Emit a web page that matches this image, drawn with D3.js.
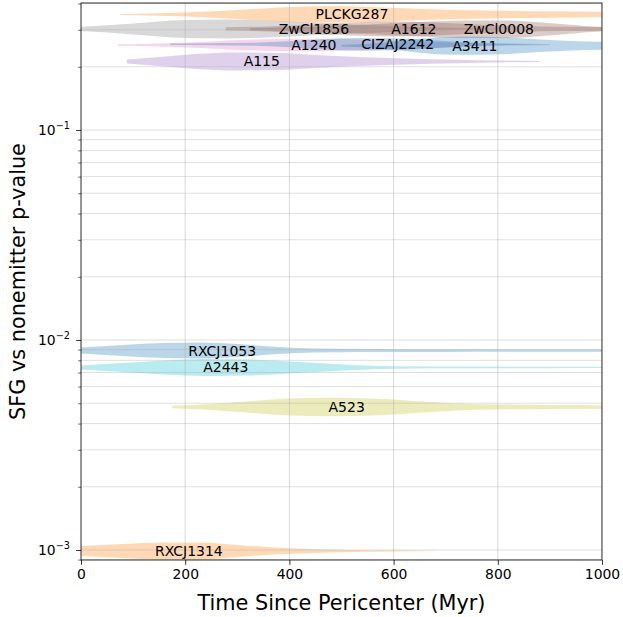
<!DOCTYPE html>
<html>
<head>
<meta charset="utf-8">
<script src="https://cdn.jsdelivr.net/npm/d3@7"></script>
<style>
  html, body { margin: 0; padding: 0; background: #fff; }
  svg { display: block; font-family: "DejaVu Sans", sans-serif; }
</style>
</head>
<body>
<svg id="chart" width="623" height="617"></svg>
<script>
// Clusters, in drawing order
const clusters = ["ZwCl1856", "PLCKG287", "A1612", "ZwCl0008", "A1240", "CIZAJ2242",
                  "A3411", "A115", "RXCJ1053", "A2443", "A523", "RXCJ1314"];
// SFG vs nonemitter p-value for each cluster
const pValues = [0.303, 0.355, 0.303, 0.302, 0.254, 0.256,
                 0.252, 0.212, 0.0089, 0.0074, 0.0048, 0.00099];
// time (Myr) at which each cluster name is written
const labelTimes = [447, 520, 639, 802, 447, 608, 756, 347, 271, 278, 510, 207];
const colors = ["#7f7f7f", "#ff7f0e", "#8c564b", "#8c564b", "#e377c2", "#1f77b4",
                "#1f77b4", "#9467bd", "#1f77b4", "#17becf", "#bcbd22", "#ff7f0e"];

// time-since-pericenter densities: [time (Myr), relative density]
const densityZwCl1856 = [[-60,.05],[0,.22],[100,.55],[200,.9],[280,.95],[360,.85],[440,.65],[520,.45],[620,.25],[720,.1],[800,.03]];
const densityPLCKG287 = [[75,.05],[150,.12],[250,.3],[330,.55],[400,.75],[460,.82],[540,.78],[620,.62],[700,.47],[800,.37],[900,.32],[1000,.28],[1100,.15],[1160,.03]];
const densityA1612 = [[278,.17],[360,.25],[440,.45],[520,.65],[600,.75],[680,.65],[760,.45],[840,.3],[920,.22],[1000,.2],[1100,.12]];
const densityZwCl0008 = [[325,.12],[420,.2],[500,.35],[580,.55],[660,.75],[740,.88],[820,.88],[880,.7],[940,.45],[990,.25],[1050,.2],[1150,.1]];
const densityA1240 = [[71,.08],[150,.15],[230,.3],[300,.5],[380,.6],[460,.62],[540,.55],[620,.4],[700,.25],[780,.12],[860,.06],[900,.02]];
const densityCIZAJ2242 = [[171,.08],[250,.1],[330,.15],[400,.3],[460,.5],[530,.62],[600,.6],[660,.45],[720,.25],[780,.12],[850,.05],[900,.02]];
const densityA3411 = [[500,.08],[580,.3],[650,.7],[700,.88],[760,.9],[820,.82],[880,.62],[940,.47],[1000,.4],[1100,.25],[1200,.05]];
const densityA115 = [[88,.2],[150,.45],[220,.75],[300,.9],[380,.85],[450,.65],[530,.45],[620,.3],[720,.17],[800,.1],[880,.05]];
const densityRXCJ1053 = [[-100,.05],[0,.3],[80,.55],[160,.75],[230,.8],[300,.65],[380,.35],[450,.2],[550,.15],[700,.13],[850,.12],[1000,.12],[1100,.05]];
const densityA2443 = [[-100,.05],[0,.2],[80,.45],[160,.7],[240,.85],[320,.8],[400,.6],[470,.4],[520,.25],[600,.12],[750,.09],[900,.07],[1000,.06],[1100,.03]];
const densityA523 = [[175,.12],[250,.3],[330,.6],[400,.85],[480,.92],[560,.85],[640,.6],[720,.35],[800,.25],[900,.2],[1000,.18],[1100,.1]];
const densityRXCJ1314 = [[-100,.1],[0,.5],[80,.7],[160,.85],[230,.85],[300,.6],[370,.35],[440,.2],[520,.1],[600,.06],[680,.02]];

const densities = [densityZwCl1856, densityPLCKG287, densityA1612, densityZwCl0008, densityA1240,
                   densityCIZAJ2242, densityA3411, densityA115, densityRXCJ1053, densityA2443,
                   densityA523, densityRXCJ1314];

const xTicks = [0, 200, 400, 600, 800, 1000];
const yMajorTicks = [1e-3, 1e-2, 1e-1];
const yTickLabels = ["\u22123", "\u22122", "\u22121"];
const xDomain = [0, 1000];
const yDomain = [0.000896, 0.4025];
const xLabel = "Time Since Pericenter (Myr)";
const yLabel = "SFG vs nonemitter p-value";

const margin = { left: 81, right: 21, top: 3, bottom: 57 };
const W = 623, H = 617;
const svg = d3.select("#chart");

const x = d3.scaleLinear().domain(xDomain).range([margin.left, W - margin.right]);
const y = d3.scaleLog().domain(yDomain).range([H - margin.bottom, margin.top]);
const halfWidth = d3.scaleLinear().domain([0, 1]).range([0, 10]);

const x0 = x.range()[0], x1 = x.range()[1];
const yTop = y.range()[1], yBot = y.range()[0];

svg.append("defs").append("clipPath").attr("id", "plot-clip")
  .append("rect").attr("x", x0).attr("y", yTop).attr("width", x1 - x0).attr("height", yBot - yTop);

// minor ticks on the log axis
const yMinorTicks = [];
[1e-4, 1e-3, 1e-2, 1e-1].forEach(dec => {
  for (let k = 2; k <= 9; k++) {
    const v = k * dec;
    if (v >= yDomain[0] && v <= yDomain[1]) yMinorTicks.push(v);
  }
});

// violins
const violins = svg.append("g").attr("clip-path", "url(#plot-clip)");
clusters.forEach((name, i) => {
  const cy = y(pValues[i]);
  const area = d3.area()
    .x(d => x(d[0]))
    .y0(d => cy - halfWidth(d[1]))
    .y1(d => cy + halfWidth(d[1]))
    .curve(d3.curveMonotoneX);
  violins.append("path")
    .datum(densities[i])
    .attr("d", area)
    .attr("fill", colors[i])
    .attr("fill-opacity", 0.3)
    .attr("stroke", "none");
});

// grid (drawn over the violin bodies)
const grid = svg.append("g").attr("clip-path", "url(#plot-clip)");
grid.selectAll("line.gx").data(xTicks).join("line")
  .attr("x1", d => x(d)).attr("x2", d => x(d))
  .attr("y1", yTop).attr("y2", yBot)
  .attr("stroke", "#b0b0b0").attr("stroke-opacity", 0.55).attr("stroke-width", 0.9);
grid.selectAll("line.gy").data(yMajorTicks.concat(yMinorTicks)).join("line")
  .attr("x1", x0).attr("x2", x1)
  .attr("y1", d => y(d)).attr("y2", d => y(d))
  .attr("stroke", "#b0b0b0").attr("stroke-opacity", 0.45).attr("stroke-width", 0.9);

// cluster labels
const labels = svg.append("g");
clusters.forEach((name, i) => {
  labels.append("text")
    .attr("x", x(labelTimes[i]))
    .attr("y", y(pValues[i]))
    .attr("text-anchor", "middle")
    .attr("dominant-baseline", "central")
    .attr("font-size", 14)
    .attr("fill", "#000")
    .text(name);
});

// axes
const xAxis = d3.axisBottom(x).tickValues(xTicks).tickFormat(d3.format("d"))
  .tickSizeInner(4.9).tickSizeOuter(0).tickPadding(4.5);
const gx = svg.append("g").attr("transform", `translate(0,${yBot})`).call(xAxis);
gx.select(".domain").remove();
gx.selectAll("text").attr("font-size", 13.9).attr("font-family", "DejaVu Sans").attr("fill", "#000");
gx.selectAll("line").attr("stroke", "#000").attr("stroke-width", 0.8);

const yAxis = d3.axisLeft(y).tickValues(yMajorTicks).tickFormat(() => "")
  .tickSizeInner(4.9).tickSizeOuter(0);
const gy = svg.append("g").attr("transform", `translate(${x0},0)`).call(yAxis);
gy.select(".domain").remove();
gy.selectAll("line").attr("stroke", "#000").attr("stroke-width", 0.8);
gy.selectAll(".tick text").remove();

const gyMinor = svg.append("g").attr("transform", `translate(${x0},0)`)
  .call(d3.axisLeft(y).tickValues(yMinorTicks).tickFormat(() => "").tickSizeInner(2.8).tickSizeOuter(0));
gyMinor.select(".domain").remove();
gyMinor.selectAll("line").attr("stroke", "#000").attr("stroke-width", 0.6);
gyMinor.selectAll("text").remove();

// 10^n tick labels
const yl = svg.append("g");
yMajorTicks.forEach((v, i) => {
  const t = yl.append("text")
    .attr("x", x0 - 11)
    .attr("y", y(v) + 5)
    .attr("text-anchor", "end")
    .attr("font-size", 13.9)
    .attr("fill", "#000");
  t.append("tspan").text("10");
  t.append("tspan").attr("dy", -6).attr("font-size", 9.7).text(yTickLabels[i]);
});

// frame
svg.append("rect")
  .attr("x", x0).attr("y", yTop).attr("width", x1 - x0).attr("height", yBot - yTop)
  .attr("fill", "none").attr("stroke", "#000").attr("stroke-width", 0.8);

// axis titles
svg.append("text")
  .attr("x", (x0 + x1) / 2).attr("y", 610)
  .attr("text-anchor", "middle")
  .attr("font-size", 20.8)
  .attr("fill", "#000")
  .text(xLabel);
svg.append("text")
  .attr("transform", `translate(25,${(yTop + yBot) / 2}) rotate(-90)`)
  .attr("text-anchor", "middle")
  .attr("font-size", 20.8)
  .attr("fill", "#000")
  .text(yLabel);
</script>
</body>
</html>
